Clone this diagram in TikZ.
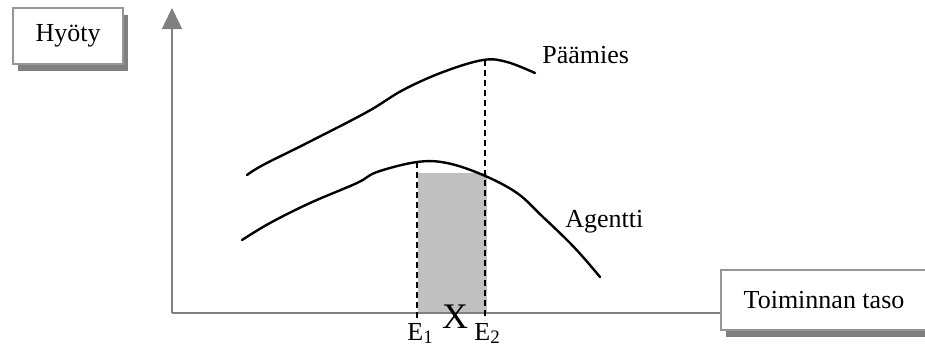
\documentclass[tikz,border=0pt]{standalone}
\usepackage{fontspec}
\setmainfont{Liberation Serif}
\usetikzlibrary{arrows.meta,positioning,shadows}
\definecolor{axisgray}{RGB}{128,128,128}
\definecolor{boxgray}{RGB}{150,150,150}
\definecolor{areagray}{RGB}{192,192,192}

\begin{document}
\begin{tikzpicture}[
  x=0.5pt, y=-0.5pt,
  labelbox/.style={draw=boxgray, line width=0.6pt, fill=white, inner sep=0pt,
    font=\fontsize{13}{15}\selectfont,
    drop shadow={shadow xshift=2.5pt, shadow yshift=-3.5pt, fill=axisgray, opacity=1}},
  axis/.style={draw=axisgray, line width=0.8pt},
  curve/.style={line width=1.2pt, line cap=round},
  guide/.style={dashed, line width=0.7pt, dash pattern=on 3pt off 2pt},
  curvelabel/.style={inner sep=0pt, anchor=base west, font=\fontsize{13}{15}\selectfont},
  tick/.style={inner sep=0pt, anchor=base west, font=\fontsize{13}{15}\selectfont}
]
\useasboundingbox (0,0) rectangle (925,350);

% axes and boxes
\node[labelbox, minimum width=55pt, minimum height=28pt] (hyoty) at (68,36) {Hyöty};
\node[labelbox, minimum width=103pt, minimum height=30pt] (taso) at (824,300) {Toiminnan taso};
\coordinate (origin) at (172,313);
\coordinate (ytop) at (172,8);

% shaded area
\fill[areagray] (418,173) rectangle (487,313);

\draw[axis] (origin) -- (origin -| taso.west);
\draw[axis, -{Triangle[length=10.5pt, width=10pt]}] (origin) -- (ytop);

% curves
\draw[curve] plot[smooth, tension=0.6] coordinates {(247,175) (263,165) (307,143) (367,112)
  (403,90) (443,72) (483,60) (507,62) (535,73)};
\draw[curve] plot[smooth, tension=0.6] coordinates {(242,240) (270,223) (310,203) (357,183)
  (377,172) (417,162) (447,163) (483,175) (517,193) (543,217) (567,240) (583,257) (600,277)};

\coordinate (peakA) at (417,162);
\coordinate (peakP) at (485,60);
\coordinate (footA) at (417,320);
\coordinate (footP) at (485,320);
\draw[guide] (peakA) -- (footA);
\draw[guide] (peakP) -- (footP);

% labels
\node[curvelabel] (paamies) at (542,63) {Päämies};
\node[curvelabel] (agentti) at (565,227) {Agentti};
\node[tick] (e1) at (407,340) {E\raisebox{-1.5pt}{\fontsize{9.5}{11}\selectfont 1}};
\node[tick] (e2) at (474,340) {E\raisebox{-1.5pt}{\fontsize{9.5}{11}\selectfont 2}};
\node[inner sep=0pt, anchor=base, font=\fontsize{18}{20}\selectfont] (x) at (455,328) {X};
\end{tikzpicture}
\end{document}
